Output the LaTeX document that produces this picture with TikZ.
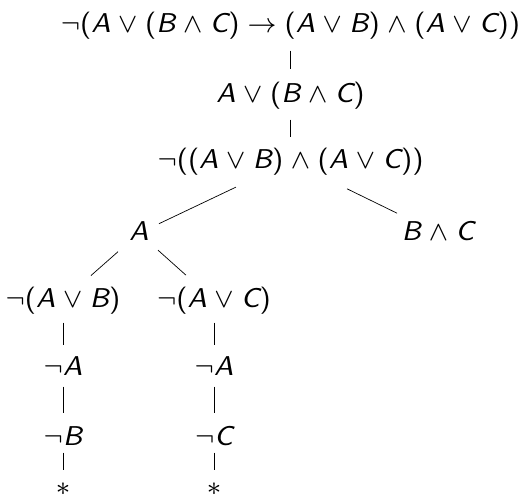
\documentclass[tikz,border=0pt]{standalone}
\medmuskip=4.7mu plus 2mu minus 4mu
\thickmuskip=5mu
\newcommand\vA{\textsf{\slshape A}}
\newcommand\vB{\textsf{\slshape B}}
\newcommand\vC{\textsf{\slshape C}}
\newcommand\lp{\textsf{(}}
\newcommand\rp{\textsf{)}}
\begin{document}
\begin{tikzpicture}[x=1pt,y=-1pt,
  f/.style={font=\fontsize{8}{10}\selectfont, scale=3.4, inner sep=0pt, anchor=base, text height=6pt, text depth=2pt},
  st/.style={font=\fontsize{8}{10}\selectfont, scale=3.4, inner sep=0pt, anchor=center},
  e/.style={line width=0.7pt}]
\useasboundingbox (0,0) rectangle (526,495);
\node[f] (r) at (290.5,33) {$\neg\lp\vA\vee\lp\vB\wedge\vC\rp\to\lp\vA\vee\vB\rp\wedge\lp\vA\vee\vC\rp\rp$};
\node[f] (n2) at (290.5,102) {$\vA\vee\lp\vB\wedge\vC\rp$};
\node[f] (n3) at (290.5,168) {$\neg\lp\lp\vA\vee\vB\rp\wedge\lp\vA\vee\vC\rp\rp$};
\node[f] (a) at (139,240) {$\vA$};
\node[f] (bc) at (438,240) {$\vB\wedge\vC$};
\node[f] (nab) at (63,307) {$\neg\lp\vA\vee\vB\rp$};
\node[f] (nac) at (214,307) {$\neg\lp\vA\vee\vC\rp$};
\node[f] (na1) at (63,375) {$\neg\vA$};
\node[f] (nb) at (63,445) {$\neg\vB$};
\node[st] (s1) at (63,489) {$\ast$};
\node[f] (na2) at (214,375) {$\neg\vA$};
\node[f] (nc) at (214,445) {$\neg\vC$};
\node[st] (s2) at (214,489) {$\ast$};
\draw[e, shorten <=24.5pt, shorten >=26.5pt] (r.center) -- (n2.center);
\draw[e, shorten <=24.5pt, shorten >=24.5pt] (n2.center) -- (n3.center);
\draw[e, shorten <=60.4pt, shorten >=22.1pt] (n3.center) -- (a.center);
\draw[e, shorten <=62.9pt, shorten >=45.6pt] (n3.center) -- (bc.center);
\draw[e, shorten <=28pt, shorten >=37.3pt] (a.center) -- (nab.center);
\draw[e, shorten <=25.5pt, shorten >=37.6pt] (a.center) -- (nac.center);
\draw[e, shorten <=22.5pt, shorten >=23.5pt] (nab.center) -- (na1.center);
\draw[e, shorten <=18.5pt, shorten >=25.5pt] (na1.center) -- (nb.center);
\draw[e, shorten <=14.5pt, shorten >=19pt] (nb.center) -- (s1.center);
\draw[e, shorten <=22.5pt, shorten >=23.5pt] (nac.center) -- (na2.center);
\draw[e, shorten <=18.5pt, shorten >=25.5pt] (na2.center) -- (nc.center);
\draw[e, shorten <=14.5pt, shorten >=19pt] (nc.center) -- (s2.center);
\end{tikzpicture}
\end{document}
